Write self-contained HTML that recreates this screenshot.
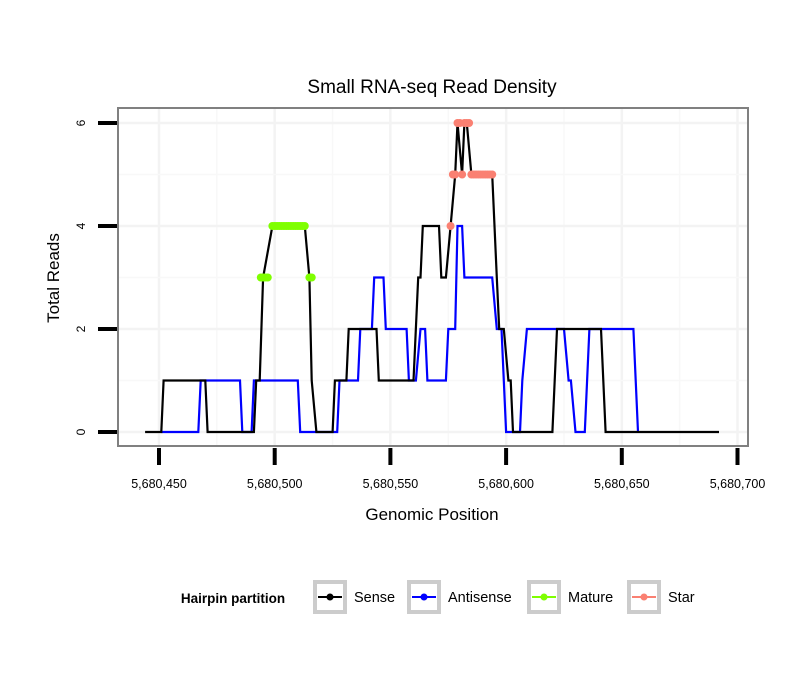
<!DOCTYPE html>
<html><head><meta charset="utf-8"><style>
body{margin:0;background:#fff}
svg{display:block;font-family:"Liberation Sans",Arial,sans-serif}
</style></head><body>
<svg id="chart" width="810" height="690" viewBox="0 0 810 690">
<rect x="0" y="0" width="810" height="690" fill="#fff"/>
<text x="432" y="93" font-size="19" text-anchor="middle">Small RNA-seq Read Density</text>
<g id="grid"></g>
<g id="series"></g>
<rect x="118" y="108" width="630" height="338" fill="none" stroke="#808080" stroke-width="2"/>
<g id="axes"></g>
<text x="432" y="520" font-size="17" text-anchor="middle">Genomic Position</text>
<text transform="translate(59,278) rotate(-90)" font-size="17" text-anchor="middle">Total Reads</text>
<g id="legend">
<text x="233" y="603" font-size="13.5" font-weight="bold" text-anchor="middle">Hairpin partition</text>
</g>
</svg>
<script>
const base = 5680450;
const xTicks = [5680450, 5680500, 5680550, 5680600, 5680650, 5680700];
const xTickLabels = ["5,680,450","5,680,500","5,680,550","5,680,600","5,680,650","5,680,700"];
const yTicks = [0, 2, 4, 6];
const senseX = [-6,1,2,20,21,41,42,43.5,45,49,63,65,66,68,75,76,81,82,94,95,110,112,113,114,121,122,124,126,128,129,131,132,133,135,144,146,147,149,151,152,153,170,172,191,193,242];
const senseY = [0,0,1,1,0,0,1,1,3,4,4,3,1,0,0,1,1,2,2,1,1,3,3,4,4,3,3,4,5,6,5,6,6,5,5,3,2,2,1,1,0,0,2,2,0,0];
const antiX = [1,17,18,35,36,40,41,60,61,77,78,86,87,92,93,97,98,107,108,111,113,115,116,124,125,128,129,131,132,144,146,148,150,156,157,159,175,177,178,180,184,186,205,207];
const antiY = [0,0,1,1,0,0,1,1,0,0,1,1,2,2,3,3,2,2,1,1,2,2,1,1,2,2,4,4,3,3,2,2,0,0,1,2,2,1,1,0,0,2,2,0];
const matureX = [44,45,46,47,49,50,51,52,53,54,55,56,57,58,59,60,61,62,63,65,66];
const matureY = [3,3,3,3,4,4,4,4,4,4,4,4,4,4,4,4,4,4,4,3,3];
const starX = [126,127,128,129,130,131,132,133,134,135,136,137,138,139,140,141,142,143,144];
const starY = [4,5,5,6,6,5,6,6,6,5,5,5,5,5,5,5,5,5,5];
const legendItems = ["Sense","Antisense","Mature","Star"];
const legendColors = ["#000000","#0000ff","#7fff00","#fa8072"];

const NS = "http://www.w3.org/2000/svg";
function sx(v){ return 159 + (v - base) * 2.314; }
function sxo(o){ return sx(base + o); }
function sy(v){ return 432 - v * 51.5; }
function mk(tag, attrs, parent){ const e = document.createElementNS(NS, tag); for (const k in attrs) e.setAttribute(k, attrs[k]); parent.appendChild(e); return e; }

const grid = document.getElementById("grid");
mk("rect",{x:118,y:108,width:630,height:338,fill:"#fff"},grid);
for (let i = 0; i < xTicks.length; i++) {
  const gx = sx(xTicks[i]);
  const l = mk("line",{x1:gx,x2:gx,y1:109,y2:445,stroke:"#f3f3f3","stroke-width":2.5},grid);
  
  
  const mx = sx(xTicks[i] + 25);
  if (mx < 748) {
    const m = mk("line",{x1:mx,x2:mx,y1:109,y2:445,stroke:"#f8f8f8","stroke-width":1.5},grid);
    
    
  }
}
for (let i = 0; i < yTicks.length; i++) {
  const gy = sy(yTicks[i]);
  const l = mk("line",{x1:119,x2:747,y1:gy,y2:gy,stroke:"#f3f3f3","stroke-width":2.5},grid);
  
  
  const my = sy(yTicks[i] + 1);
  if (my > 108) {
    const m = mk("line",{x1:119,x2:747,y1:my,y2:my,stroke:"#f8f8f8","stroke-width":1.5},grid);
    
    
  }
}

const ser = document.getElementById("series");
function pathD(xs, ys){ return xs.map((x,i)=>(i?"L":"M")+sxo(x).toFixed(1)+","+sy(ys[i]).toFixed(1)).join(" "); }
const ap = mk("path",{d:pathD(antiX,antiY),fill:"none",stroke:"#0000ff","stroke-width":2.2},ser);


const sp = mk("path",{d:pathD(senseX,senseY),fill:"none",stroke:"#000","stroke-width":2.2},ser);


for (let i = 0; i < matureX.length; i++) {
  const c = mk("circle",{cx:sxo(matureX[i]),cy:sy(matureY[i]),r:4,fill:"#7fff00"},ser);
  
  
}
for (let i = 0; i < starX.length; i++) {
  const c = mk("circle",{cx:sxo(starX[i]),cy:sy(starY[i]),r:4,fill:"#fa8072"},ser);
  
  
}

const axes = document.getElementById("axes");
for (let i = 0; i < xTicks.length; i++) {
  const tx = sx(xTicks[i]);
  const t = mk("line",{x1:tx,x2:tx,y1:448,y2:465,stroke:"#000","stroke-width":4},axes);
  
  
  const lb = mk("text",{x:tx,y:488,"font-size":12.5,"text-anchor":"middle"},axes);
  lb.textContent = xTickLabels[i];
  
  
}
for (let i = 0; i < yTicks.length; i++) {
  const ty = sy(yTicks[i]);
  const t = mk("line",{x1:98,x2:117,y1:ty,y2:ty,stroke:"#000","stroke-width":4},axes);
  
  
  const lb = mk("text",{transform:"translate(85,"+ty+") rotate(-90)","font-size":12,"text-anchor":"middle"},axes);
  lb.textContent = String(yTicks[i]);
  
  
}

const leg = document.getElementById("legend");
const boxX = [313, 407, 527, 627];
for (let i = 0; i < legendItems.length; i++) {
  const g = mk("g",{},leg);
  
  
  const bx = boxX[i];
  mk("rect",{x:bx+2,y:582,width:30,height:30,fill:"#fff",stroke:"#cccccc","stroke-width":4},g);
  mk("line",{x1:bx+5,x2:bx+29,y1:597,y2:597,stroke:legendColors[i],"stroke-width":2},g);
  mk("circle",{cx:bx+17,cy:597,r:3.5,fill:legendColors[i]},g);
  const t = mk("text",{x:bx+41,y:602,"font-size":14.5},g);
  t.textContent = legendItems[i];
}
</script>
</body></html>
